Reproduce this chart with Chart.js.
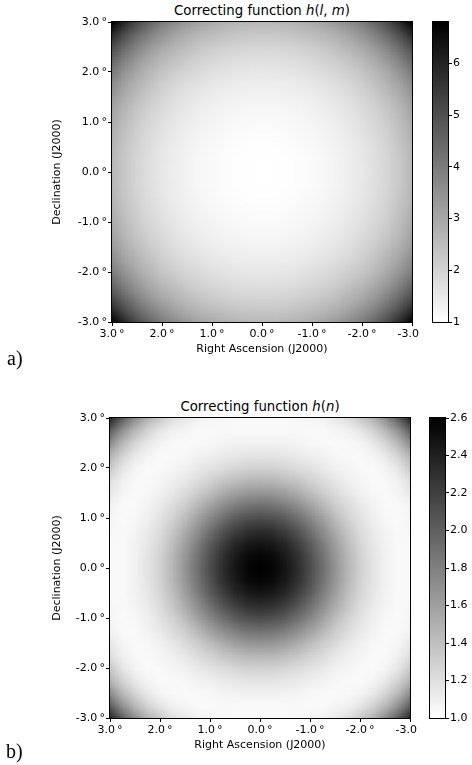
<!DOCTYPE html>
<html>
<head>
<meta charset="utf-8">
<script src="https://cdn.jsdelivr.net/npm/chart.js@4.4.0/dist/chart.umd.min.js"></script>
<style>
  html, body { margin: 0; padding: 0; background: #fff; }
  body { width: 472px; height: 765px; position: relative; overflow: hidden; font-family: "DejaVu Sans", sans-serif; color: #000; }
  canvas { position: absolute; }
  .ttl { position: absolute; font-size: 13.3px; line-height: 13.3px; white-space: nowrap; transform: translateX(-50%); }
  .tag { position: absolute; font-family: "Liberation Serif", "Times New Roman", serif; font-size: 20px; line-height: 20px; }
</style>
</head>
<body>
<div class="ttl" style="left:262px; top:4px;">Correcting function <i>h</i>(<i>l</i>, <i>m</i>)</div>
<canvas id="mapA" width="420" height="360" style="left:0; top:0;"></canvas>
<canvas id="barA" width="47" height="340" style="left:425px; top:0;"></canvas>
<div class="tag" style="left:7px; top:348px;">a)</div>

<div class="ttl" style="left:260px; top:400px;">Correcting function <i>h</i>(<i>n</i>)</div>
<canvas id="mapB" width="420" height="360" style="left:0; top:396px;"></canvas>
<canvas id="barB" width="50" height="340" style="left:422px; top:396px;"></canvas>
<div class="tag" style="left:6px; top:741px;">b)</div>

<script>
// tick positions (degrees) for both axes
const axisTicks = [-3, -2, -1, 0, 1, 2, 3];
// grid offsets from the centre (degrees), the maps are mirror symmetric
const gridPos = [0, 0.25, 0.5, 0.75, 1, 1.25, 1.5, 1.75, 2, 2.25, 2.5, 2.75, 3];

// h(l,m), one quadrant: rows = |Dec| offset, columns = |RA| offset
const hLM = [
  [1.00, 1.01, 1.03, 1.06, 1.11, 1.18, 1.27, 1.39, 1.53, 1.71, 1.95, 2.24, 2.61],
  [1.01, 1.01, 1.03, 1.07, 1.12, 1.19, 1.28, 1.40, 1.54, 1.73, 1.96, 2.25, 2.63],
  [1.03, 1.03, 1.05, 1.09, 1.14, 1.21, 1.31, 1.42, 1.57, 1.76, 2.00, 2.30, 2.68],
  [1.06, 1.07, 1.09, 1.13, 1.18, 1.25, 1.35, 1.47, 1.63, 1.82, 2.07, 2.38, 2.77],
  [1.11, 1.12, 1.14, 1.18, 1.24, 1.31, 1.41, 1.54, 1.70, 1.91, 2.16, 2.49, 2.90],
  [1.18, 1.19, 1.21, 1.25, 1.31, 1.39, 1.50, 1.64, 1.81, 2.02, 2.30, 2.64, 3.08],
  [1.27, 1.28, 1.31, 1.35, 1.41, 1.50, 1.62, 1.76, 1.95, 2.18, 2.47, 2.84, 3.31],
  [1.39, 1.40, 1.42, 1.47, 1.54, 1.64, 1.76, 1.92, 2.12, 2.38, 2.70, 3.10, 3.61],
  [1.53, 1.54, 1.57, 1.63, 1.70, 1.81, 1.95, 2.12, 2.34, 2.62, 2.98, 3.43, 3.99],
  [1.71, 1.73, 1.76, 1.82, 1.91, 2.02, 2.18, 2.38, 2.62, 2.94, 3.34, 3.84, 4.47],
  [1.95, 1.96, 2.00, 2.07, 2.16, 2.30, 2.47, 2.70, 2.98, 3.34, 3.79, 4.36, 5.08],
  [2.24, 2.25, 2.30, 2.38, 2.49, 2.64, 2.84, 3.10, 3.43, 3.84, 4.36, 5.01, 5.84],
  [2.61, 2.63, 2.68, 2.77, 2.90, 3.08, 3.31, 3.61, 3.99, 4.47, 5.08, 5.84, 6.80]
];

// h(n), one quadrant
const hN = [
  [2.60, 2.57, 2.47, 2.32, 2.12, 1.90, 1.67, 1.46, 1.29, 1.17, 1.09, 1.04, 1.03],
  [2.57, 2.53, 2.43, 2.29, 2.09, 1.88, 1.65, 1.45, 1.28, 1.17, 1.09, 1.04, 1.03],
  [2.47, 2.43, 2.35, 2.20, 2.02, 1.81, 1.60, 1.41, 1.26, 1.15, 1.08, 1.04, 1.04],
  [2.32, 2.29, 2.20, 2.07, 1.90, 1.71, 1.52, 1.36, 1.22, 1.13, 1.07, 1.04, 1.05],
  [2.12, 2.09, 2.02, 1.90, 1.75, 1.59, 1.42, 1.28, 1.18, 1.10, 1.05, 1.03, 1.06],
  [1.90, 1.88, 1.81, 1.71, 1.59, 1.45, 1.32, 1.22, 1.14, 1.08, 1.04, 1.03, 1.08],
  [1.67, 1.65, 1.60, 1.52, 1.42, 1.32, 1.23, 1.15, 1.09, 1.05, 1.03, 1.06, 1.14],
  [1.46, 1.45, 1.41, 1.36, 1.28, 1.22, 1.15, 1.10, 1.06, 1.04, 1.04, 1.09, 1.20],
  [1.29, 1.28, 1.26, 1.22, 1.18, 1.14, 1.09, 1.06, 1.04, 1.03, 1.07, 1.16, 1.33],
  [1.17, 1.17, 1.15, 1.13, 1.10, 1.08, 1.05, 1.04, 1.03, 1.07, 1.14, 1.27, 1.47],
  [1.09, 1.09, 1.08, 1.07, 1.05, 1.04, 1.03, 1.04, 1.07, 1.14, 1.26, 1.44, 1.71],
  [1.04, 1.04, 1.04, 1.04, 1.03, 1.03, 1.06, 1.09, 1.16, 1.27, 1.44, 1.68, 2.00],
  [1.03, 1.03, 1.04, 1.05, 1.06, 1.08, 1.14, 1.20, 1.33, 1.47, 1.71, 2.00, 2.38]
];

// colour bar ranges and ticks
const rangeA = [1, 6.8];
const cbTicksA = [1, 2, 3, 4, 5, 6];
const rangeB = [1.0, 2.6];
const cbTicksB = [1.0, 1.2, 1.4, 1.6, 1.8, 2.0, 2.2, 2.4, 2.6];

Chart.defaults.font.family = 'DejaVu Sans';
Chart.defaults.color = '#000';
const tickFont = { size: 11 };

function greyLevel(v, lo, hi) {
    let t = (v - lo) / (hi - lo);
    t = Math.min(1, Math.max(0, t));
    return Math.round(255 * (1 - t));
}

// map cells: every cell is put where the x/y scales say, then shown smoothed like imshow
const cellPlugin = {
    id: 'cells',
    beforeDatasetsDraw(chart) {
        const { ctx, chartArea: a, scales: { x, y } } = chart;
        const rng = chart.options.plugins.cells.range;
        const pts = chart.data.datasets[0].data;
        const half = (gridPos[1] - gridPos[0]) / 2;
        const xv = pts.map(p => p.x), yv = pts.map(p => p.y);
        const cols = new Set(xv).size, rows = new Set(yv).size;
        const xe = [x.getPixelForValue(Math.min(...xv) - half), x.getPixelForValue(Math.max(...xv) + half)];
        const ye = [y.getPixelForValue(Math.min(...yv) - half), y.getPixelForValue(Math.max(...yv) + half)];
        const left = Math.min(...xe), right = Math.max(...xe);
        const top = Math.min(...ye), bottom = Math.max(...ye);
        const cw = (right - left) / cols, ch = (bottom - top) / rows;

        const tex = document.createElement('canvas');
        tex.width = cols; tex.height = rows;
        const tctx = tex.getContext('2d');
        const img = tctx.createImageData(cols, rows);
        pts.forEach(p => {
            const c = Math.floor((x.getPixelForValue(p.x) - left) / cw);
            const r = Math.floor((y.getPixelForValue(p.y) - top) / ch);
            const g = greyLevel(p.v, rng[0], rng[1]);
            const k = (r * cols + c) * 4;
            img.data[k] = g; img.data[k + 1] = g; img.data[k + 2] = g; img.data[k + 3] = 255;
        });
        tctx.putImageData(img, 0, 0);

        ctx.save();
        ctx.beginPath();
        ctx.rect(a.left, a.top, a.width, a.height);
        ctx.clip();
        ctx.imageSmoothingEnabled = true;
        ctx.drawImage(tex, left, top, right - left, bottom - top);
        ctx.restore();
    },
    afterDraw(chart) {
        // frame round the plot area
        const { ctx, chartArea: a } = chart;
        ctx.save();
        ctx.strokeStyle = '#000';
        ctx.lineWidth = 1;
        ctx.strokeRect(a.left - 0.5, a.top - 0.5, a.width + 1, a.height + 1);
        ctx.restore();
    }
};

// colour ramp of the colour bar, drawn through the y scale
const rampPlugin = {
    id: 'ramp',
    beforeDatasetsDraw(chart) {
        const { ctx, chartArea: a, scales: { y } } = chart;
        const rng = chart.options.plugins.ramp.range;
        const g = ctx.createLinearGradient(0, y.getPixelForValue(rng[0]), 0, y.getPixelForValue(rng[1]));
        g.addColorStop(0, '#ffffff');
        g.addColorStop(1, '#000000');
        ctx.save();
        ctx.fillStyle = g;
        ctx.fillRect(a.left, a.top, a.width, a.height);
        ctx.strokeStyle = '#000';
        ctx.lineWidth = 1;
        ctx.strokeRect(a.left - 0.5, a.top - 0.5, a.width + 1, a.height + 1);
        ctx.restore();
    }
};

function degLabel(v) {
    return v.toFixed(1) + '\u2009\u00b0';
}

function makeMap(id, quad, range, yWidth, padRight) {
    const n = gridPos.length - 1;
    const pts = [];
    for (let i = -n; i <= n; i++) {
        for (let j = -n; j <= n; j++) {
            pts.push({
                x: Math.sign(j) * gridPos[Math.abs(j)],
                y: Math.sign(i) * gridPos[Math.abs(i)],
                v: quad[Math.abs(i)][Math.abs(j)]
            });
        }
    }
    return new Chart(document.getElementById(id), {
        type: 'scatter',
        data: { datasets: [{ data: pts, pointRadius: 0, pointHoverRadius: 0 }] },
        options: {
            responsive: false,
            animation: false,
            events: [],
            layout: { padding: { top: 22, right: padRight, left: 0, bottom: 0 } },
            plugins: { legend: { display: false }, tooltip: { enabled: false }, cells: { range: range } },
            scales: {
                x: {
                    type: 'linear', min: -3, max: 3, reverse: true,
                    afterBuildTicks: s => { s.ticks = axisTicks.map(v => ({ value: v })); },
                    afterFit: s => { s.height = 38; },
                    ticks: { callback: degLabel, font: tickFont, padding: 2, maxRotation: 0, autoSkip: false },
                    grid: { drawOnChartArea: false, tickLength: 4, color: '#000' },
                    border: { display: false },
                    title: { display: true, text: 'Right Ascension (J2000)', font: { size: 11 }, padding: { top: 0, bottom: 4 } }
                },
                y: {
                    type: 'linear', min: -3, max: 3,
                    afterBuildTicks: s => { s.ticks = axisTicks.map(v => ({ value: v })); },
                    afterFit: s => { s.width = yWidth; },
                    ticks: { callback: degLabel, font: tickFont, padding: 1, autoSkip: false },
                    grid: { drawOnChartArea: false, tickLength: 4, color: '#000' },
                    border: { display: false },
                    title: { display: true, text: 'Declination (J2000)', font: { size: 11 }, padding: { top: 51, bottom: 0 } }
                }
            }
        },
        plugins: [cellPlugin]
    });
}

function makeBar(id, range, ticks, digits, padLeft, axisWidth) {
    return new Chart(document.getElementById(id), {
        type: 'scatter',
        data: { datasets: [{ data: [{ x: 0, y: range[0] }, { x: 0, y: range[1] }], pointRadius: 0, pointHoverRadius: 0 }] },
        options: {
            responsive: false,
            animation: false,
            events: [],
            layout: { padding: { top: 22, bottom: 18, left: padLeft, right: 0 } },
            plugins: { legend: { display: false }, tooltip: { enabled: false }, ramp: { range: range } },
            scales: {
                x: { display: false, min: 0, max: 1 },
                y: {
                    position: 'right', min: range[0], max: range[1],
                    afterBuildTicks: s => { s.ticks = ticks.map(v => ({ value: v })); },
                    afterFit: s => { s.width = axisWidth; },
                    ticks: { callback: v => v.toFixed(digits), font: tickFont, padding: 1 },
                    grid: { drawOnChartArea: false, tickLength: 4, color: '#000' },
                    border: { display: false }
                }
            }
        },
        plugins: [rampPlugin]
    });
}

makeMap('mapA', hLM, rangeA, 112, 8);
makeBar('barA', rangeA, cbTicksA, 0, 8, 24);
makeMap('mapB', hN, rangeB, 110, 10);
makeBar('barB', rangeB, cbTicksB, 1, 8, 27);
</script>
</body>
</html>
